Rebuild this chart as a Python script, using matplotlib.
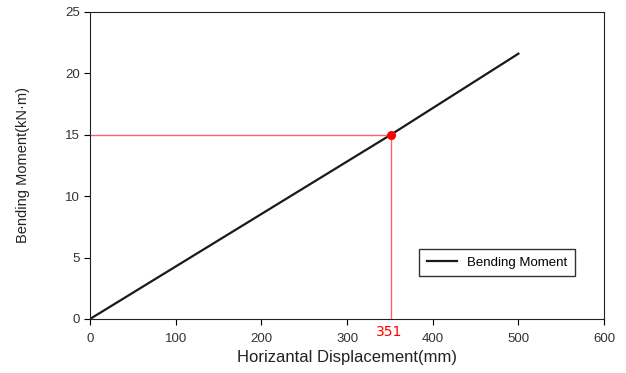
import matplotlib
matplotlib.use("Agg")
import matplotlib.pyplot as plt

# data
disp = [0, 351, 500]          # mm
moment = [0, 15.0, 21.6]      # kN·m
mark_x = 351
mark_y = 15.0
x_ticks = [0, 100, 200, 300, 400, 500, 600]
y_ticks = [0, 5, 10, 15, 20, 25]

plt.rcParams["font.family"] = ["Liberation Sans", "DejaVu Sans"]

fig = plt.figure(figsize=(6.26, 3.73), dpi=100)
ax = fig.add_axes([0.1438, 0.1448, 0.8212, 0.8232])

ax.plot(disp, moment, color="#1a1a1a", lw=1.6, label="Bending Moment")

# guide lines to the marked point
ax.plot([0, mark_x], [mark_y, mark_y], color="#ff6060", lw=1.0)
ax.plot([mark_x, mark_x], [0, mark_y], color="#ff6060", lw=1.0)
ax.plot([mark_x], [mark_y], "o", color="red", ms=5.5)

ax.set_xlim(0, 600)
ax.set_ylim(0, 25)
ax.set_xticks(x_ticks)
ax.set_yticks(y_ticks)
ax.tick_params(direction="out", length=4, width=0.8, labelsize=9.5,
               labelcolor="#333333", top=False, right=False)
ax.tick_params(axis="x", pad=6)
for s in ax.spines.values():
    s.set_linewidth(0.8)
    s.set_color("#222222")

ax.text(mark_x - 2, -0.45, str(mark_x), color="red", fontsize=10,
        ha="center", va="top", family="DejaVu Sans")

ax.set_xlabel("Horizantal Displacement(mm)", fontsize=12, color="#222222", labelpad=4)
ax.set_ylabel("Bending Moment(kN·m)", fontsize=10.5, color="#222222", labelpad=25)

leg = ax.legend(loc="center", bbox_to_anchor=(0.792, 0.184), fontsize=9.5,
                fancybox=False, framealpha=1, edgecolor="#333333",
                borderpad=0.55, handlelength=2.3, handletextpad=0.8,
                borderaxespad=0)
leg.get_frame().set_linewidth(1.0)

fig.savefig("out.png", dpi=100)
